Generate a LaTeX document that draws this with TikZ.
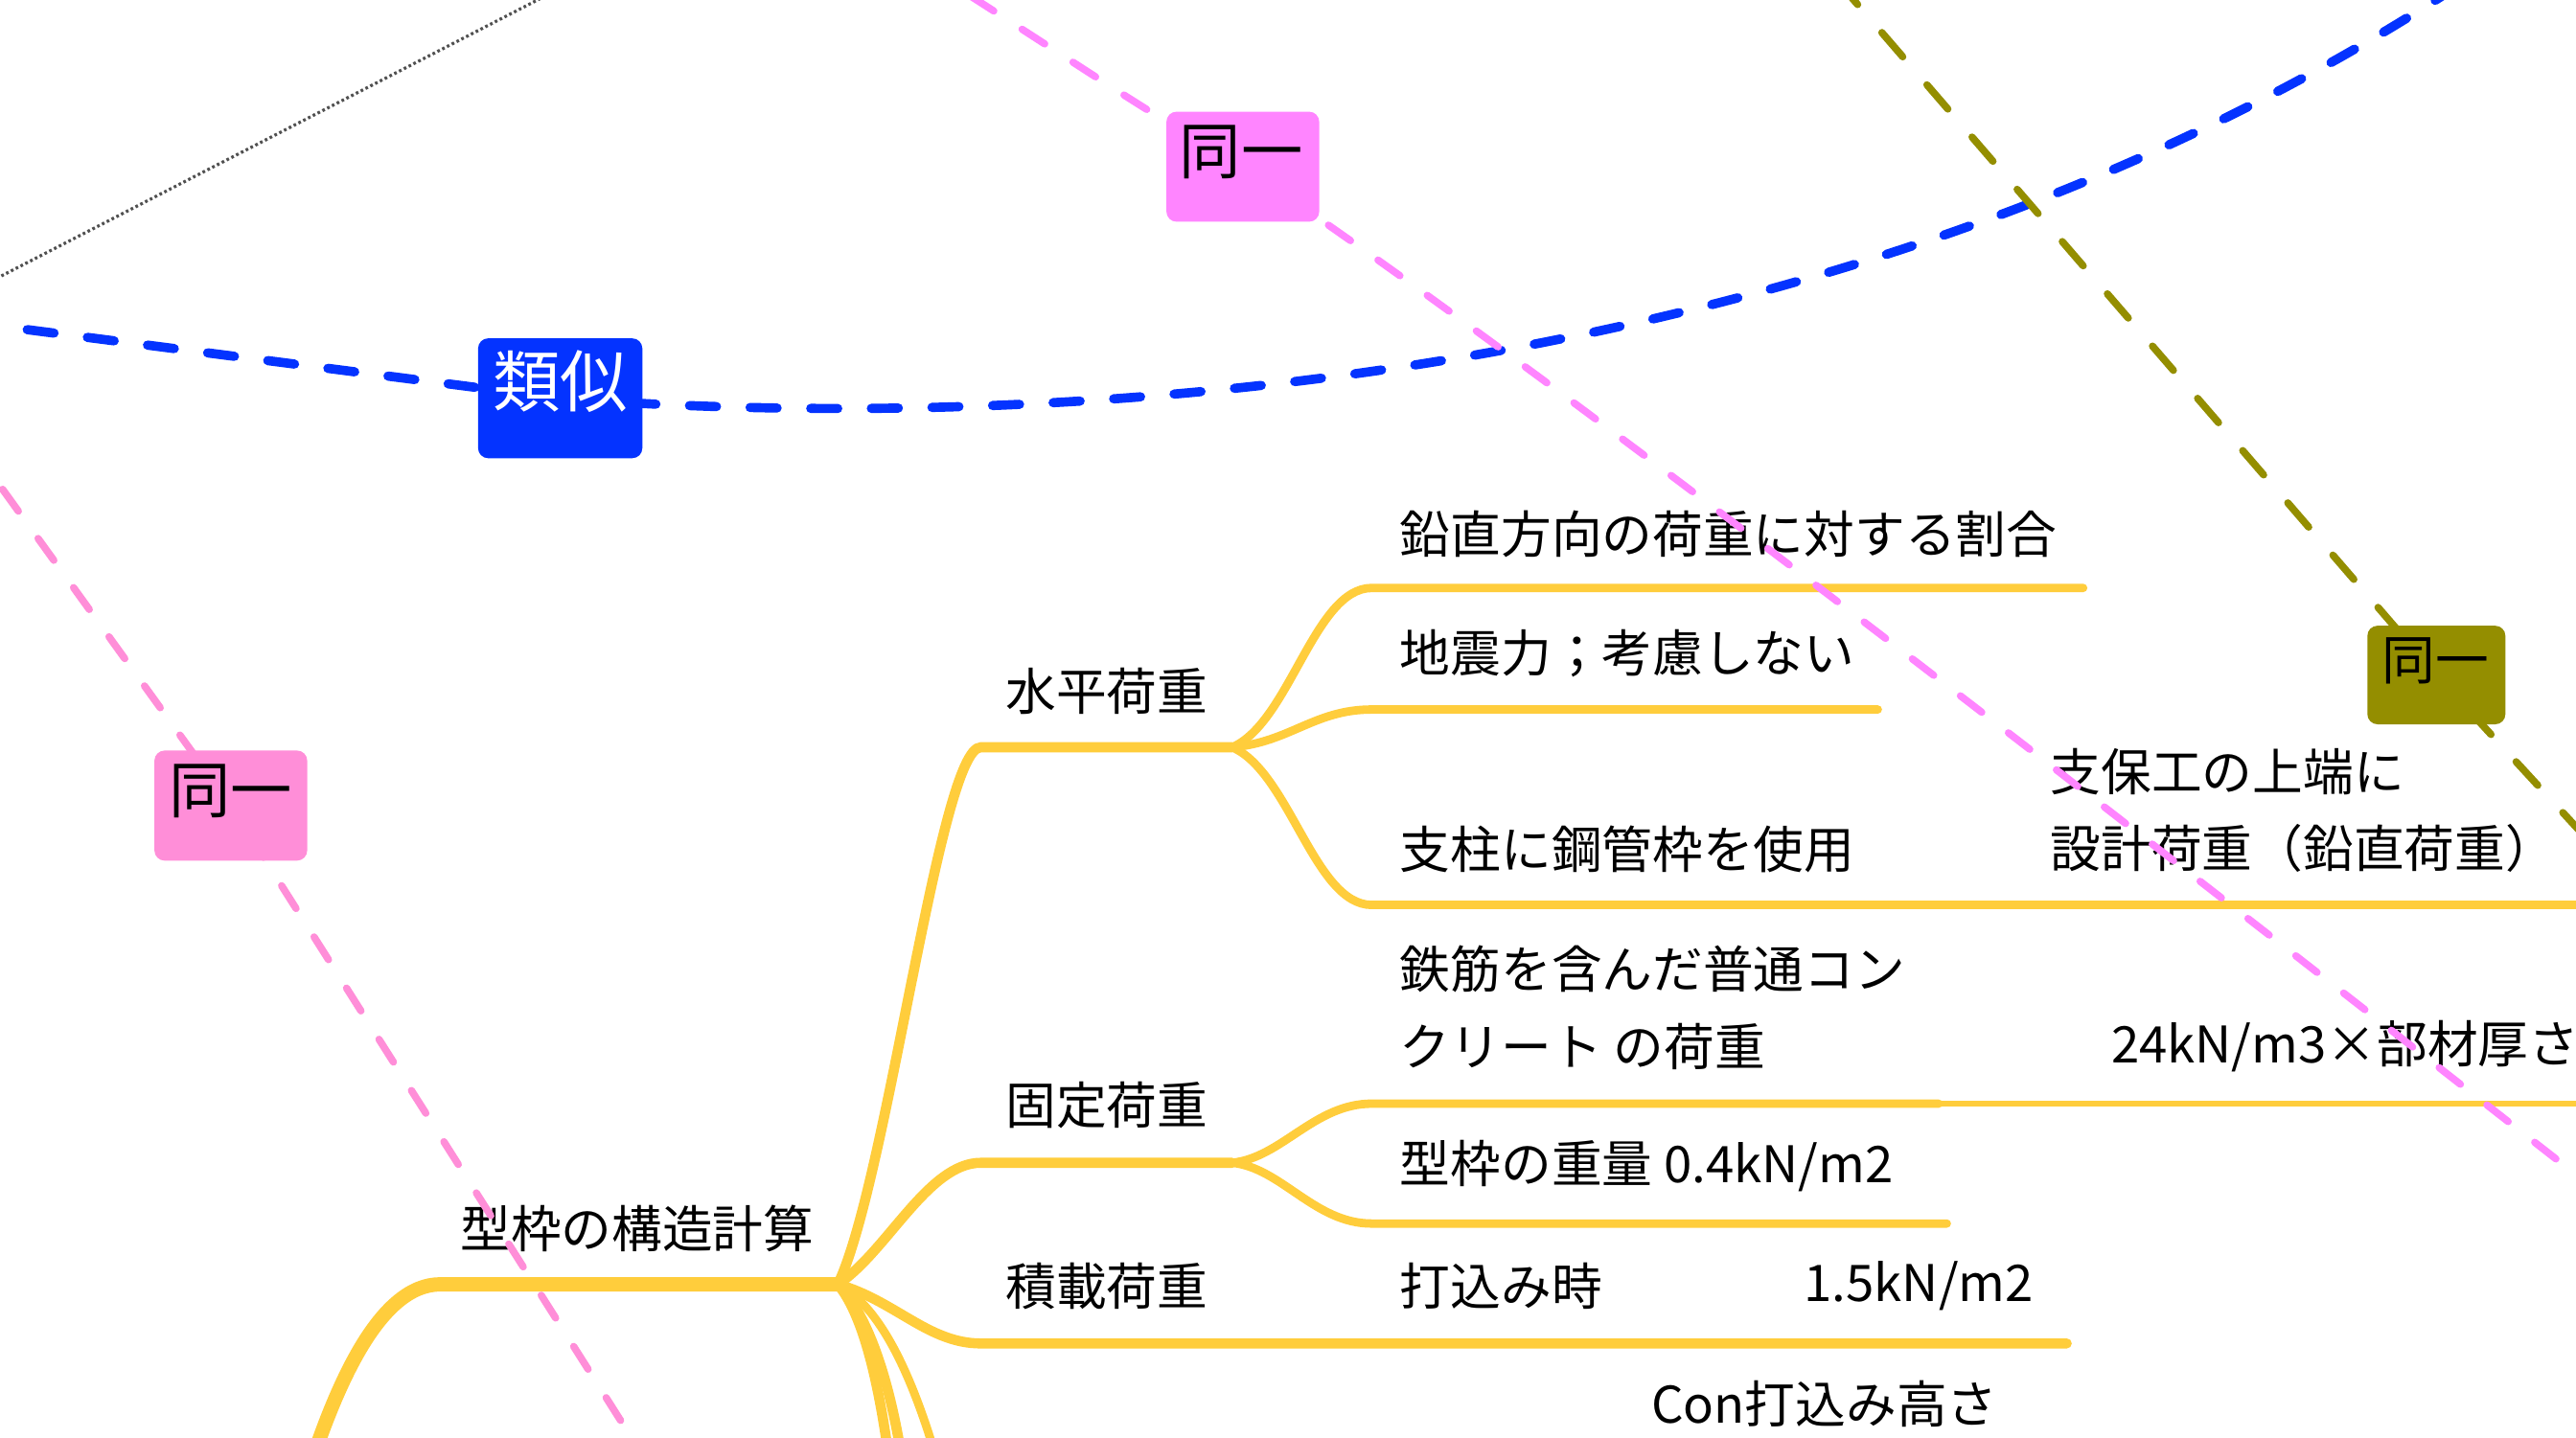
\documentclass[tikz,border=0pt]{standalone}
\usepackage{fontspec}
\newfontfamily\cjk{Noto Sans CJK JP}
\definecolor{myyellow}{RGB}{255,205,60}
\definecolor{myblue}{RGB}{4,51,255}
\definecolor{mymagenta}{RGB}{255,133,255}
\definecolor{mypink}{RGB}{255,142,216}
\definecolor{myolive}{RGB}{148,142,0}
\definecolor{mygray}{RGB}{80,80,80}
\begin{document}
\begin{tikzpicture}[x=0.034286cm,y=-0.034286cm,
  txt/.style={font={\cjk\fontsize{30}{45.8}\selectfont}, inner sep=0pt, anchor=west, align=left},
  lab/.style={font={\cjk\fontsize{#1}{#1}\selectfont}, inner sep=0pt},
  br1/.style={draw=myyellow, line width=8.5pt, line cap=round},
  br2/.style={draw=myyellow, line width=6pt, line cap=round},
  br3/.style={draw=myyellow, line width=5pt, line cap=round},
  br4/.style={draw=myyellow, line width=3.5pt, line cap=round},
  rel/.style={line cap=round, dash pattern=on 16pt off 20pt},
  tagbox/.style={rounded corners=6pt, inner sep=0pt},
]
\fill[white] (0,0) rectangle (1568,875);
\clip (0,0) rectangle (1568,875);

% ---------- mind map branches ----------
\coordinate (root) at (188,895);
\coordinate (m0) at (268,782);
\coordinate (j0) at (510,782);
\draw[br1] (root) .. controls (206,840) and (232,782) .. (m0) -- (j0);

\coordinate (h0) at (597,455); \coordinate (h1) at (750,455);
\draw[br2] (j0) .. controls (540,720) and (572,455) .. (h0) -- (h1);
\coordinate (f0) at (597,708); \coordinate (f1) at (750,708);
\draw[br2] (j0) .. controls (540,762) and (565,708) .. (f0) -- (f1);
\coordinate (s0) at (597,818); \coordinate (s1) at (1258,818);
\draw[br2] (j0) .. controls (545,792) and (565,818) .. (s0) -- (s1);

\coordinate (d1) at (542,895); \coordinate (d2) at (550,895); \coordinate (d3) at (572,895);
\draw[br2] (j0) .. controls (525,800) and (535,840) .. (d1);
\draw[br2] (j0) .. controls (528,800) and (542,840) .. (d2);
\draw[br3] (j0) .. controls (535,795) and (555,835) .. (d3);

\coordinate (a0) at (835,358); \coordinate (a1) at (1268,358);
\draw[br3] (h1) .. controls (785,440) and (800,358) .. (a0) -- (a1);
\coordinate (b0) at (835,432); \coordinate (b1) at (1143,432);
\draw[br3] (h1) .. controls (785,452) and (800,432) .. (b0) -- (b1);
\coordinate (c0) at (835,551); \coordinate (c1) at (1600,551);
\draw[br3] (h1) .. controls (785,470) and (800,551) .. (c0) -- (c1);

\coordinate (e0) at (835,672); \coordinate (e1) at (1180,672); \coordinate (e2) at (1600,672);
\draw[br3] (f1) .. controls (780,705) and (800,672) .. (e0) -- (e1);
\draw[br4] (e1) -- (e2);
\coordinate (g0) at (835,745); \coordinate (g1) at (1185,745);
\draw[br3] (f1) .. controls (780,711) and (800,745) .. (g0) -- (g1);

% ---------- texts ----------
\node[txt] (t0) at (280,748) {型枠の構造計算};
\node[txt] (tH) at (612,421) {水平荷重};
\node[txt] (tF) at (612,673) {固定荷重};
\node[txt] (tS) at (612,783) {積載荷重};
\node[txt] (tH1) at (852,325) {鉛直方向の荷重に対する割合};
\node[txt] (tH2) at (852,398) {地震力；考慮しない};
\node[txt] (tH3) at (852,517) {支柱に鋼管枠を使用};
\node[txt] (tH3a) at (1248,493.5) {支保工の上端に\\設計荷重（鉛直荷重）};
\node[txt] (tF1) at (852,613.5) {鉄筋を含んだ普通コン\\クリート の荷重};
\node[txt] (tF1a) at (1285,637) {24kN/m3×部材厚さ};
\node[txt] (tF2) at (852,710) {型枠の重量 0.4kN/m2};
\node[txt] (tS1) at (852,783) {打込み時};
\node[txt] (tS1a) at (1098,783) {1.5kN/m2};
\node[txt] (tC) at (1005,855) {Con打込み高さ};

% ---------- relation lines ----------
\coordinate (gA) at (-5,171);
\coordinate (gB) at (333,-3);
\draw[mygray, line width=1.8pt, dash pattern=on 1.6pt off 1.6pt] (gA) -- (gB);

\coordinate (simC) at (341,242.5);
\coordinate (bL) at (-20,196);
\coordinate (bR) at (1495,-8);
\draw[myblue, line width=5.5pt, rel] (bL) -- (simC) .. controls (600,262) and (1100,250) .. (bR);

\coordinate (p1C) at (756.5,101.5);
\coordinate (p1A) at (560,-22);
\coordinate (p1B) at (1610,748);
\draw[mymagenta, line width=4.3pt, rel] (p1A) .. controls (650,35) and (700,70) .. (p1C) .. controls (950,230) and (1350,545) .. (p1B);

\coordinate (p2C) at (140.5,490.5);
\coordinate (p2A) at (-20,268);
\coordinate (p2B) at (400,900);
\draw[mypink, line width=4.3pt, rel] (p2A) -- (p2C) -- (p2B);

\coordinate (oC) at (1483,411);
\coordinate (oA) at (1118,-12);
\coordinate (oB) at (1585,522);
\draw[myolive, line width=4.3pt, line cap=round, dash pattern=on 19pt off 22pt] (oA) -- (oC) -- (oB);

% ---------- relation labels ----------
\node[tagbox, fill=myblue, minimum width=100*0.9755pt, minimum height=73*0.9755pt] (sim) at (simC) {};
\node[lab=40, text=white] (simT) at (341,232) {類似};
\node[tagbox, fill=mymagenta, minimum width=93*0.9755pt, minimum height=67*0.9755pt] (p1) at (p1C) {};
\node[lab=36.6] (p1T) at (755.5,92.5) {同一};
\node[tagbox, fill=mypink, minimum width=93*0.9755pt, minimum height=67*0.9755pt] (p2) at (p2C) {};
\node[lab=36.6] (p2T) at (140.5,481.5) {同一};
\node[tagbox, fill=myolive, minimum width=84*0.9755pt, minimum height=60*0.9755pt] (ol) at (oC) {};
\node[lab=31.7] (olT) at (1482.5,402.5) {同一};
\end{tikzpicture}
\end{document}
